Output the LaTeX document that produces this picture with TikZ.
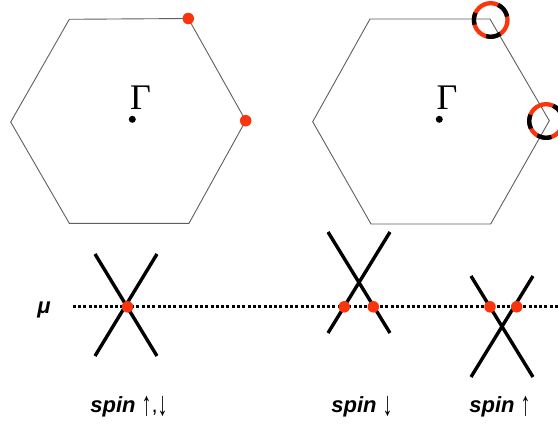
\documentclass[tikz,border=0pt]{standalone}
\usepackage{fontspec}
\usetikzlibrary{calc}
\setmainfont{Liberation Serif}
\newfontfamily\labelfont{Liberation Sans}
\definecolor{fermi}{RGB}{250,52,12}
\definecolor{edge}{RGB}{95,95,95}
\tikzset{
  zone/.style={draw=edge, line width=0.9pt, line join=miter},
  band/.style={line width=3.4pt, black},
  level/.style={line width=2.8pt, dash pattern=on 3pt off 2.3pt},
  crossing/.style={circle, fill=fermi, inner sep=0pt, minimum size=11.5pt},
  centre/.style={circle, fill=black, inner sep=0pt, minimum size=7pt},
  gammalabel/.style={font=\fontsize{36}{36}\selectfont, inner sep=0pt},
  spinlabel/.style={anchor=base, inner sep=0pt, font=\labelfont\fontsize{22}{22}\selectfont},
  ringred/.style={draw=fermi, line width=4.3pt},
  ringblack/.style={draw=black, line width=4.3pt},
}
\newcommand{\spinarrow}[1]{\raisebox{-3.5pt}{\scalebox{0.9}[1.55]{#1}}}
\newcommand{\spintext}[1]{{\bfseries\itshape spin} {\mdseries\upshape #1}}
\begin{document}
\begin{tikzpicture}[x=1pt,y=-1pt]
\useasboundingbox[fill=white] (0,0) rectangle (558,426);

% left Brillouin zone
\coordinate (a1) at (69.3,19.3);
\coordinate (a2) at (188.3,18.5);
\coordinate (a3) at (245.7,120.7);
\coordinate (a4) at (189,223.3);
\coordinate (a5) at (69.3,223.3);
\coordinate (a6) at (10.7,122);
\draw[zone] (a1) -- (a2) -- (a3) -- (a4) -- (a5) -- (a6) -- cycle;
\node[centre] (g1) at (132.3,119.3) {};
\node[gammalabel] (G1) at (140.5,98) {Γ};
\node[crossing] (k1) at (a2) {};
\node[crossing] (k2) at (a3) {};

% right Brillouin zone
\coordinate (b1) at (370,19);
\coordinate (b2) at (490,19);
\coordinate (b3) at (549.3,120.7);
\coordinate (b4) at (490.7,224);
\coordinate (b5) at (371,224);
\coordinate (b6) at (312.7,121.7);
\draw[zone] (b1) -- (b2) -- (b3) -- (b4) -- (b5) -- (b6) -- cycle;
\node[centre] (g2) at (439.3,119.3) {};
\node[gammalabel] (G2) at (447,97.5) {Γ};

% split Fermi pockets: red rings with black segments
\coordinate (r1) at (490.7,20);
\draw[ringred] (r1) circle[radius=16.8pt];
\draw[ringblack] ($(r1)+(12:16.8pt)$) arc[start angle=12, end angle=64, radius=16.8pt];
\draw[ringblack] ($(r1)+(155:16.8pt)$) arc[start angle=155, end angle=196, radius=16.8pt];
\draw[ringblack] ($(r1)+(254:16.8pt)$) arc[start angle=254, end angle=305, radius=16.8pt];
\coordinate (r2) at (546,121);
\draw[ringred] (r2) circle[radius=16.8pt];
\draw[ringblack] ($(r2)+(20:16.8pt)$) arc[start angle=20, end angle=65, radius=16.8pt];
\draw[ringblack] ($(r2)+(158:16.8pt)$) arc[start angle=158, end angle=207, radius=16.8pt];
\draw[ringblack] ($(r2)+(239:16.8pt)$) arc[start angle=239, end angle=289, radius=16.8pt];

% chemical potential
\node[inner sep=0pt, anchor=base, font=\labelfont\bfseries\itshape\fontsize{22}{22}\selectfont] (mu) at (44,313) {μ};
\coordinate (m0) at (72.7,306.8);
\coordinate (m1) at (558,306.8);
\draw[level] (m0) -- (m1);

% degenerate cones
\coordinate (c1) at (95,254);
\coordinate (c2) at (157,254);
\coordinate (c3) at (95,356);
\coordinate (c4) at (157,356);
\draw[band] (c1) -- (c4);
\draw[band] (c2) -- (c3);
\node[crossing] (p0) at (127.5,306.8) {};

% spin down cone
\coordinate (d1) at (328,232);
\coordinate (d2) at (390,232);
\coordinate (d3) at (328,333);
\coordinate (d4) at (390,333);
\draw[band] (d1) -- (d4);
\draw[band] (d2) -- (d3);
\node[crossing] (p1) at (344.3,306.8) {};
\node[crossing] (p2) at (373.3,306.8) {};

% spin up cone
\coordinate (u1) at (471,276);
\coordinate (u2) at (533,276);
\coordinate (u3) at (471,377);
\coordinate (u4) at (533,377);
\draw[band] (u1) -- (u4);
\draw[band] (u2) -- (u3);
\node[crossing] (p3) at (490,306.8) {};
\node[crossing] (p4) at (516.7,306.8) {};

% labels
\node[spinlabel] (s0) at (129,412) {\spintext{\spinarrow{↑},\spinarrow{↓}}};
\node[spinlabel] (s1) at (362,412) {\spintext{\spinarrow{↓}}};
\node[spinlabel] (s2) at (500,412) {\spintext{\spinarrow{↑}}};
\end{tikzpicture}
\end{document}
